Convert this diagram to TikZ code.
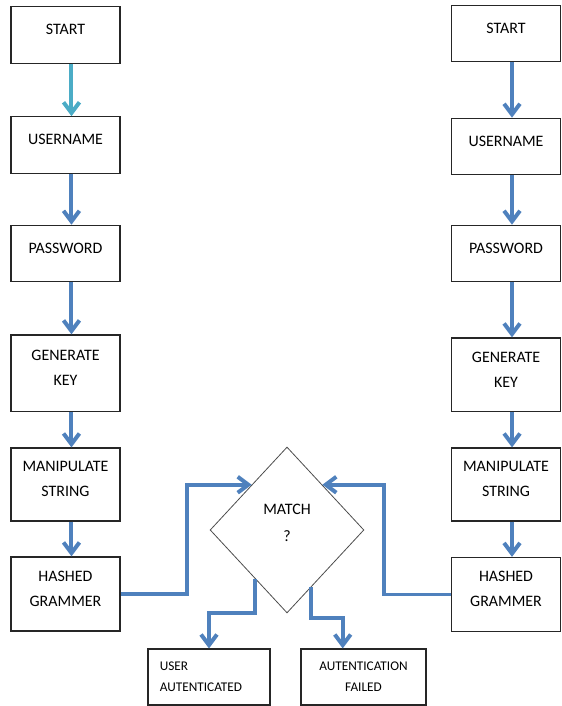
\documentclass[tikz,border=0pt]{standalone}
\usepackage{fontspec}
\setmainfont{Carlito}
\usetikzlibrary{shapes.geometric,arrows.meta}
\definecolor{flowBlue}{HTML}{4F81BD}
\definecolor{flowTeal}{HTML}{4BACC6}

\tikzset{
  stepbox/.style={draw=black!85,line width=0.9pt,minimum width=2.88cm,minimum height=1.49cm,
    inner sep=2pt,align=center,text depth=8pt,font=\fontsize{12}{19}\selectfont},
  tallbox/.style={stepbox,minimum height=1.96cm},
  endbox/.style={draw=black!85,line width=0.9pt,minimum height=1.48cm,inner sep=2pt,
    font=\fontsize{10}{16}\selectfont},
  flow/.style={draw=flowBlue,line width=3pt,-{Straight Barb[length=8pt,width=12pt]}},
}

\begin{document}
\begin{tikzpicture}[x=1cm,y=1cm]
  \useasboundingbox (0,0) rectangle (14.844,18.68);
  % left chain
  \node[stepbox] (startL) at (1.733,17.755) {START};
  \node[stepbox] (userL) at (1.733,14.844) {USERNAME};
  \node[stepbox] (passL) at (1.733,11.973) {PASSWORD};
  \node[tallbox,minimum height=2.03cm] (keyL) at (1.733,8.803) {GENERATE\\KEY};
  \node[tallbox,minimum height=1.93cm] (manL) at (1.733,5.861) {MANIPULATE\\STRING};
  \node[tallbox] (hashL) at (1.733,2.963) {HASHED\\GRAMMER};
  % right chain
  \node[stepbox] (startR) at (13.389,17.794) {START};
  \node[stepbox] (userR) at (13.389,14.804) {USERNAME};
  \node[stepbox] (passR) at (13.389,11.973) {PASSWORD};
  \node[tallbox,minimum height=1.95cm] (keyR) at (13.389,8.762) {GENERATE\\KEY};
  \node[tallbox,minimum height=1.93cm] (manR) at (13.389,5.861) {MANIPULATE\\STRING};
  \node[tallbox] (hashR) at (13.389,2.950) {HASHED\\GRAMMER};
  % decision and results
  \node[diamond,draw=black!70,line width=0.6pt,minimum width=4.07cm,minimum height=4.39cm,
    inner sep=0pt,align=center,text depth=11pt,font=\fontsize{12}{20}\selectfont] (match) at (7.594,4.657) {MATCH\\?};
  \node[endbox,minimum width=3.23cm,text width=2.6cm,inner xsep=0.31cm,align=left] (userok) at (5.530,0.767) {USER\\AUTENTICATED};
  \node[endbox,minimum width=3.31cm,align=center] (failed) at (9.618,0.767) {AUTENTICATION\\FAILED};

  \draw[flow,draw=flowTeal] ([xshift=4.5pt]startL.south) -- ([xshift=4.5pt]userL.north);
  \draw[flow] ([xshift=4.5pt]userL.south) -- ([xshift=4.5pt]passL.north);
  \draw[flow] ([xshift=4.5pt]passL.south) -- ([xshift=4.5pt]keyL.north);
  \draw[flow] ([xshift=4.5pt]keyL.south) -- ([xshift=4.5pt]manL.north);
  \draw[flow] ([xshift=4.5pt]manL.south) -- ([xshift=4.5pt]hashL.north);

  \draw[flow] ([xshift=4.5pt]startR.south) -- ([xshift=4.5pt]userR.north);
  \draw[flow] ([xshift=4.5pt]userR.south) -- ([xshift=4.5pt]passR.north);
  \draw[flow] ([xshift=4.5pt]passR.south) -- ([xshift=4.5pt]keyR.north);
  \draw[flow] ([xshift=4.5pt]keyR.south) -- ([xshift=4.5pt]manR.north);
  \draw[flow] ([xshift=4.5pt]manR.south) -- ([xshift=4.5pt]hashR.north);

  \draw[flow] (hashL.east) -| ([xshift=-1.71cm]match.128) -- (match.128);
  \draw[flow] (hashR.west) -| ([xshift=1.64cm]match.52) -- (match.52);
  \draw[flow] (match.237) -- ++(0,-0.905) -| (userok.north);
  \draw[flow] (match.293) -- ++(0,-0.82) -| ([xshift=-0.55cm]failed.north);
\end{tikzpicture}
\end{document}
